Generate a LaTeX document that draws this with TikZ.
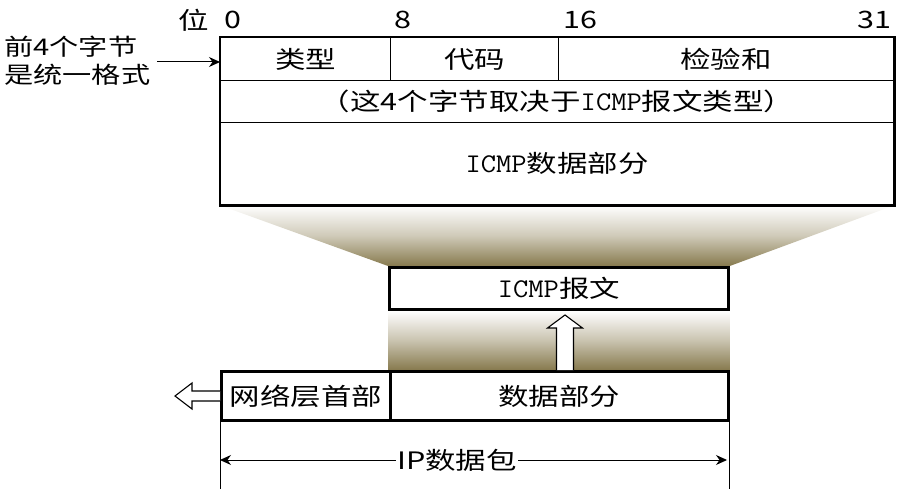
\documentclass[tikz,border=0pt]{standalone}
\usepackage{fontspec}
\setmainfont[FakeStretch=1.27]{Noto Sans CJK SC}
\newfontfamily\monof[FakeStretch=1.1]{Latin Modern Mono}
\usetikzlibrary{arrows.meta,backgrounds,calc}
\definecolor{olive1}{RGB}{135,122,78}
\newcommand{\icmp}{{\monof\fontsize{27}{27}\selectfont ICMP}}
\begin{document}
\begin{tikzpicture}[x=1pt,y=-1pt,
  txt/.style={font=\fontsize{24}{28}\selectfont, inner sep=0pt},
  cell/.style={draw, line width=1.3pt, inner sep=0pt, anchor=north west, font=\fontsize{24}{28}\selectfont},
  heavy/.style={draw, line width=2.8pt, inner sep=0pt, anchor=north west, font=\fontsize{24}{28}\selectfont},
  hollow/.style={draw, line width=1.1pt, fill=white, line join=miter},
  dimline/.style={line width=1pt},
  tip/.style={-{Stealth[length=11pt,width=10pt]}, line width=1pt}
]
\useasboundingbox (0,0) rectangle (903,489);

% bit labels
\node[txt] (wei) at (194,20) {位};
\node[txt] (b0) at (233,20) {0};
\node[txt] (b8) at (403,20) {8};
\node[txt] (b16) at (580,20) {16};
\node[txt] (b31) at (874,20) {31};

% top ICMP format box
\node[cell, minimum width=170pt, minimum height=43pt] (type) at (220,37) {类型};
\node[cell, minimum width=168pt, minimum height=43pt] (code) at (390,37) {代码};
\node[cell, minimum width=335pt, minimum height=43pt] (chk) at (558,37) {检验和};
\node[cell, minimum width=673pt, minimum height=42pt] (note) at (220,80) {（这4个字节取决于\icmp 报文类型）};
\node[cell, minimum width=673pt, minimum height=82pt] (idata) at (220,122) {\icmp 数据部分};
\draw[line width=2.8pt] (type.north west) rectangle (idata.south east);

% left label
\node[txt, align=left, anchor=west, font=\fontsize{23}{28}\selectfont] (first) at (4,61) {前4个字节\\是统一格式};
\coordinate (lblend) at (157,62);
\draw[tip] (lblend) -- (type.west |- lblend);

% ICMP message box
\node[heavy, minimum width=339pt, minimum height=42pt] (msg) at (388,266) {\icmp 报文};

% bottom IP packet
\node[heavy, minimum width=169pt, minimum height=49pt] (hdr) at (220,370) {网络层首部};
\node[heavy, minimum width=338pt, minimum height=49pt] (ipd) at (389,370) {数据部分};

% shadings
\begin{scope}[on background layer]
\shade[top color=white, bottom color=olive1, middle color=olive1!40]
  (idata.south west) -- (idata.south east) -- (msg.north east) -- (msg.north west) -- cycle;
\shade[top color=white, bottom color=olive1, middle color=olive1!45]
  (msg.south west) rectangle (ipd.north east);
\end{scope}

% hollow up arrow
\coordinate (upbase) at (565,370);
\draw[hollow] (upbase) ++(-8.5,0) -- ++(0,-42) -- ++(-9,0) -- (565,315) -- (582.5,328) -- ++(-9,0) -- ++(0,42);

% hollow left arrow
\coordinate (lbase) at (hdr.west |- 0,396);
\draw[hollow] ($(lbase)+(0,-5)$) -- (192,391) -- (192,383) -- (175,396) -- (192,409) -- (192,401) -- ($(lbase)+(0,5)$);

% dimension
\draw[dimline] (hdr.south west) -- ++(0,70);
\draw[dimline] (ipd.south east) -- ++(0,70);
\coordinate (dimL) at (220,460);
\coordinate (dimR) at (727,460);
\node[txt, fill=white, inner xsep=1pt] (iplab) at (457,460) {IP数据包};
\draw[tip] (iplab.west) -- (dimL);
\draw[tip] (iplab.east) -- (dimR);
\end{tikzpicture}
\end{document}
